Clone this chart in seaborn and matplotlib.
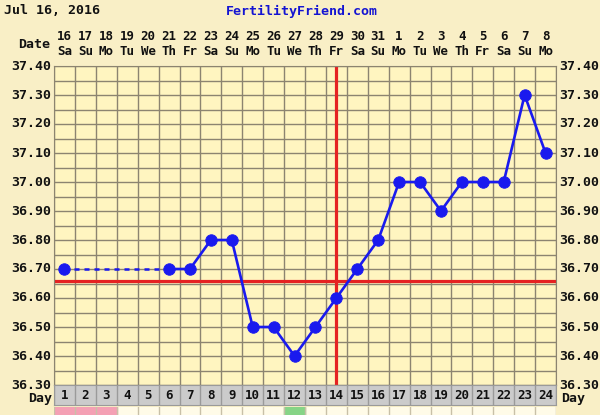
import matplotlib
matplotlib.use("Agg")
import matplotlib.pyplot as plt
import seaborn as sns
import numpy as np
import pandas as pd

# dados do grafico de temperatura
dias = list(range(1, 25))
datas = ["16", "17", "18", "19", "20", "21", "22", "23", "24", "25", "26", "27",
         "28", "29", "30", "31", "1", "2", "3", "4", "5", "6", "7", "8"]
semana = ["Sa", "Su", "Mo", "Tu", "We", "Th", "Fr", "Sa", "Su", "Mo", "Tu", "We",
          "Th", "Fr", "Sa", "Su", "Mo", "Tu", "We", "Th", "Fr", "Sa", "Su", "Mo"]
temp = [36.70, None, None, None, None, 36.70, 36.70, 36.80, 36.80, 36.50, 36.50, 36.40,
        36.50, 36.60, 36.70, 36.80, 37.00, 37.00, 36.90, 37.00, 37.00, 37.00, 37.30, 37.10]
coverline = 36.66
ovulacao = 14
y_ticks = [37.40, 37.30, 37.20, 37.10, 37.00, 36.90, 36.80, 36.70, 36.60, 36.50, 36.40, 36.30]
cores_faixa = {1: "#f4a0b4", 2: "#f4a0b4", 3: "#f4a0b4", 12: "#86d486"}

df = pd.DataFrame({"dia": dias, "temp": temp})
solido = df[df.dia >= 6]
tracejado = df[df.dia.isin([1, 6])]

fundo = "#f9efc6"
amarelo = "#fff5c0"
grade = "#8c8470"
azul = "#1a1aee"
vermelho = "#e52222"
fonte = "DejaVu Sans Mono"
preto = "#111111"

fig = plt.figure(figsize=(6, 4.15), dpi=100)
fig.patch.set_facecolor(fundo)

ax = fig.add_axes([54/600, 30/415, 502/600, 319/415])
ax.set_facecolor(amarelo)

# grade
for k in range(25):
    ax.axvline(0.5 + k, color=grade, lw=1, zorder=1)
for v in np.arange(36.30, 37.401, 0.05):
    ax.axhline(v, color=grade, lw=1, zorder=1)

ax.axhline(coverline, color=vermelho, lw=2.3, zorder=2)
ax.axvline(ovulacao, color=vermelho, lw=2.3, zorder=2)

sns.lineplot(data=tracejado, x="dia", y="temp", ax=ax, color=azul, lw=1.8,
             linestyle=(0, (2, 2)), zorder=3)
sns.lineplot(data=solido, x="dia", y="temp", ax=ax, color=azul, lw=1.9, zorder=3)
sns.scatterplot(data=df.dropna(), x="dia", y="temp", ax=ax, color=azul, s=68,
                edgecolor=azul, zorder=4)

ax.set_xlim(0.5, 24.5)
ax.set_ylim(36.30, 37.40)
ax.set_xticks([])
ax.set_yticks([])
ax.set_xlabel("")
ax.set_ylabel("")
for s in ax.spines.values():
    s.set_color(grade)

tr = ax.get_xaxis_transform()
for d, dt, sem in zip(dias, datas, semana):
    ax.text(d, 1.091, dt, transform=tr, ha="center", va="center", fontsize=9,
            fontweight="bold", family=fonte, color=preto)
    ax.text(d, 1.044, sem, transform=tr, ha="center", va="center", fontsize=9,
            fontweight="bold", family=fonte, color=preto)
ax.text(-0.008, 1.068, "Date", transform=ax.transAxes, ha="right", va="center",
        fontsize=9.5, fontweight="bold", family=fonte, color=preto)

for v in y_ticks:
    ax.text(-0.006, v, f"{v:.2f}", transform=ax.get_yaxis_transform(), ha="right",
            va="center", fontsize=9.5, fontweight="bold", family=fonte, color=preto)
    ax.text(1.006, v, f"{v:.2f}", transform=ax.get_yaxis_transform(), ha="left",
            va="center", fontsize=9.5, fontweight="bold", family=fonte, color=preto)

fig.text(4/600, 1 - 11/415, "Jul 16, 2016", ha="left", va="center", fontsize=9.5,
         fontweight="bold", family=fonte, color=preto)
fig.text(302/600, 1 - 11/415, "FertilityFriend.com", ha="center", va="center",
         fontsize=9.5, fontweight="bold", family=fonte, color="#1414d2")

# linha dos dias
ax2 = fig.add_axes([54/600, 10/415, 502/600, 20/415])
ax2.set_facecolor("#cbcbcb")
for k in range(25):
    ax2.axvline(0.5 + k, color="#9a9a9a", lw=1)
for d in dias:
    ax2.text(d, 0.5, str(d), transform=ax2.get_xaxis_transform(), ha="center",
             va="center", fontsize=9, fontweight="bold", family=fonte, color=preto)
ax2.set_xlim(0.5, 24.5)
ax2.set_ylim(0, 1)
ax2.set_xticks([])
ax2.set_yticks([])
for s in ax2.spines.values():
    s.set_color("#9a9a9a")
fig.text(52/600, 17/415, "Day", ha="right", va="center", fontsize=9.5,
         fontweight="bold", family=fonte, color=preto)
fig.text(561/600, 17/415, "Day", ha="left", va="center", fontsize=9.5,
         fontweight="bold", family=fonte, color=preto)

# faixa inferior (cortada)
ax3 = fig.add_axes([54/600, 0, 502/600, 8/415])
ax3.set_facecolor("#fffbe8")
for d, c in cores_faixa.items():
    ax3.axvspan(d - 0.5, d + 0.5, color=c)
for k in range(25):
    ax3.axvline(0.5 + k, color="#c8c0a8", lw=1)
ax3.set_xlim(0.5, 24.5)
ax3.set_xticks([])
ax3.set_yticks([])
for s in ax3.spines.values():
    s.set_visible(False)

fig.savefig("out.png", dpi=100, facecolor=fundo)
